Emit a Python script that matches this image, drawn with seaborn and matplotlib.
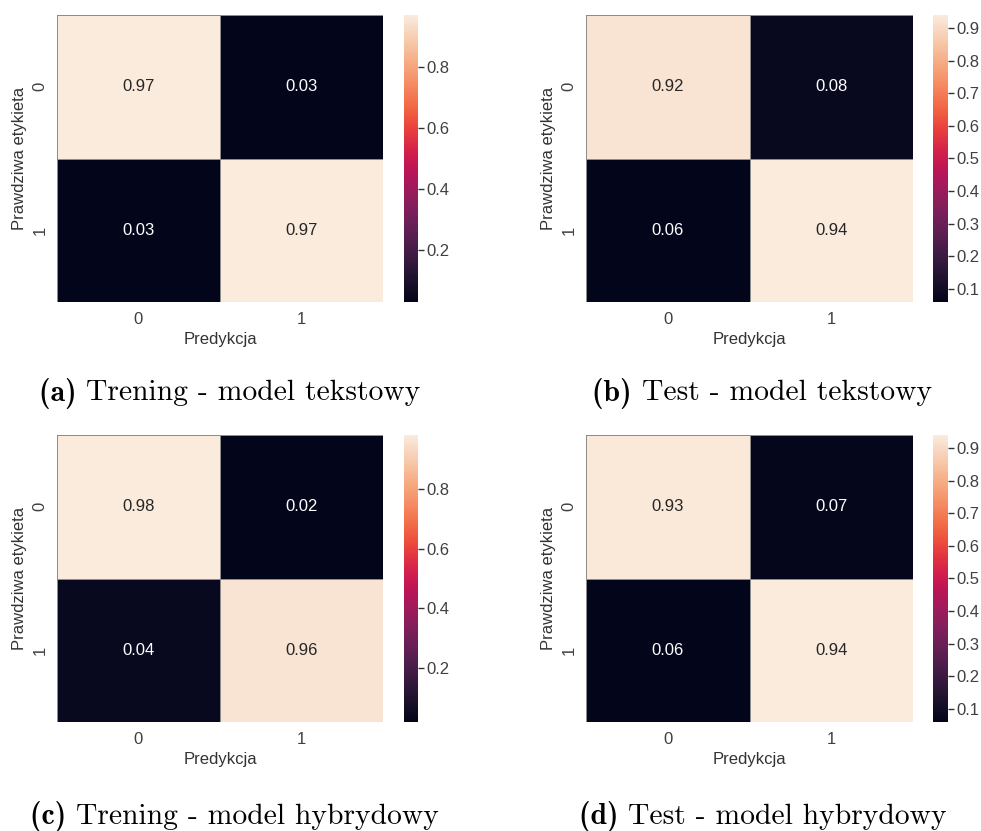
import numpy as np
import matplotlib
matplotlib.use("Agg")
import matplotlib.pyplot as plt
from matplotlib.ticker import MultipleLocator
import seaborn as sns

# Normalised confusion matrices (rows: true label, columns: prediction)
class_labels = ["0", "1"]
train_text = [[0.97, 0.03], [0.03, 0.97]]
test_text = [[0.92, 0.08], [0.06, 0.94]]
train_hybrid = [[0.98, 0.02], [0.04, 0.96]]
test_hybrid = [[0.93, 0.07], [0.06, 0.94]]

panel_letters = ["(a)", "(b)", "(c)", "(d)"]
panel_titles = [
    "Trening - model tekstowy",
    "Test - model tekstowy",
    "Trening - model hybrydowy",
    "Test - model hybrydowy",
]
matrices = [train_text, test_text, train_hybrid, test_hybrid]
cbar_steps = [0.2, 0.1, 0.2, 0.1]

sns.set_theme(style="white")
plt.rcParams["font.family"] = ["Liberation Sans", "DejaVu Sans"]

W, H = 981, 831
fig = plt.figure(figsize=(W / 100, H / 100), dpi=100)
renderer = fig.canvas.get_renderer()


def px_axes(x0, y0, x1, y1):
    return fig.add_axes([x0 / W, 1 - y1 / H, (x1 - x0) / W, (y1 - y0) / H])


def caption(cx, cy, letter, title, size=21.3):
    # bold letter + roman title, centred together at (cx, cy) in pixels
    t1 = fig.text(0, 0, letter + " ", fontsize=size, family="cmb10",
                  ha="left", va="center", color="black")
    t2 = fig.text(0, 0, title, fontsize=size, family="cmr10",
                  ha="left", va="center", color="black")
    w1 = t1.get_window_extent(renderer).width
    w2 = t2.get_window_extent(renderer).width
    x0 = cx - (w1 + w2) / 2
    t1.set_position((x0 / W, 1 - cy / H))
    t2.set_position(((x0 + w1) / W, 1 - cy / H))


# pixel boxes: heatmap, colorbar, caption centre
layout = [
    ((57, 15, 383, 302), (404, 15, 418, 302), (230, 393)),
    ((586, 15, 913, 302), (933, 15, 948, 302), (762, 393)),
    ((57, 435, 383, 722), (404, 435, 418, 722), (234, 817)),
    ((586, 435, 913, 722), (933, 435, 948, 722), (763, 817)),
]

for mat, letter, title, step, (hb, cb, cap) in zip(
        matrices, panel_letters, panel_titles, cbar_steps, layout):
    ax = px_axes(*hb)
    cax = px_axes(*cb)
    sns.heatmap(
        np.array(mat), annot=True, fmt=".2f", cmap="rocket",
        xticklabels=class_labels, yticklabels=class_labels,
        ax=ax, cbar_ax=cax, linewidths=0.6, linecolor="0.55",
        annot_kws={"fontsize": 12},
    )
    ax.set_xlabel("Predykcja", fontsize=12, color=".2")
    ax.set_ylabel("Prawdziwa etykieta", fontsize=12, color=".2")
    ax.tick_params(axis="both", length=0, labelsize=12, labelcolor=".25", pad=7)
    plt.setp(ax.get_yticklabels(), rotation=90, va="center")
    cax.yaxis.set_major_locator(MultipleLocator(step))
    cax.tick_params(axis="y", length=4, width=1, color=".2", labelsize=12,
                    labelcolor=".25", pad=2, right=True)
    caption(cap[0], cap[1], letter, title)

fig.savefig("out.png", dpi=100, facecolor="white")
